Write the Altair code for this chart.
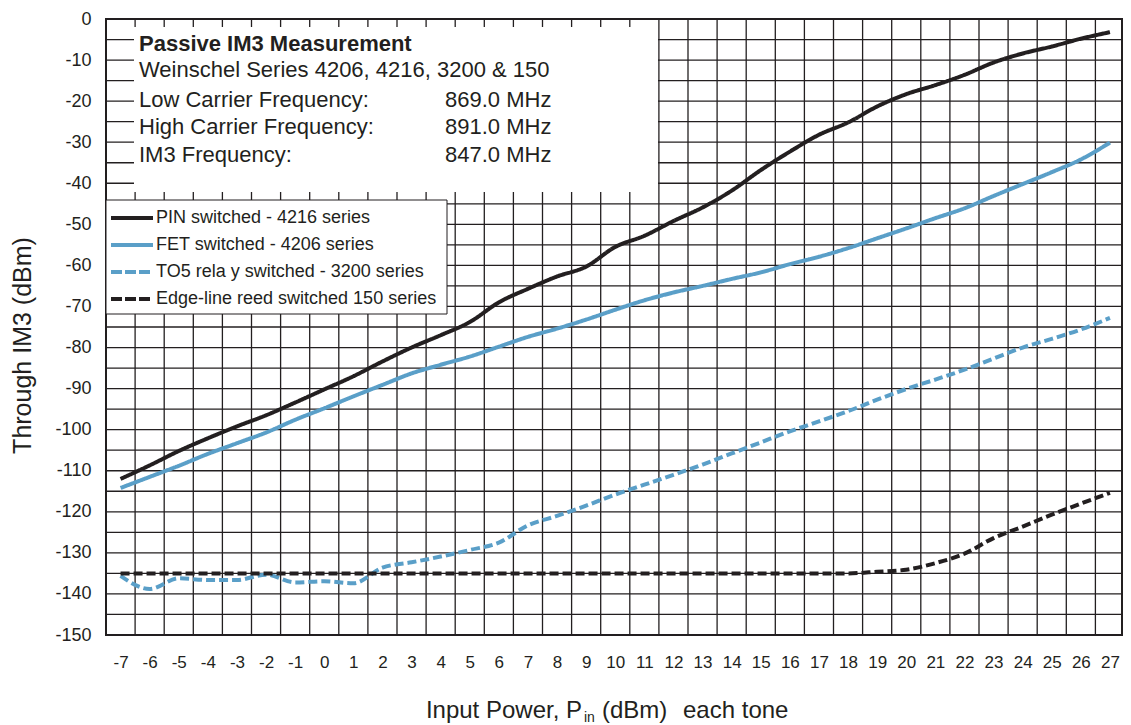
import altair as alt
import pandas as pd

# ---------------- data ----------------
x_vals = list(range(-7, 28))

pin_switched = [-112.0, -108.7, -105.2, -102.1, -99.2, -96.5, -93.4, -90.2, -87.0, -83.4,
                -80.0, -77.0, -73.8, -69.0, -65.7, -62.7, -60.3, -55.5, -52.8, -49.2,
                -45.9, -41.8, -36.8, -32.3, -28.2, -25.2, -21.3, -18.3, -16.1, -13.6,
                -10.6, -8.4, -6.7, -4.8, -3.2]

fet_switched = [-114.2, -111.5, -108.8, -105.9, -103.3, -100.7, -97.6, -94.8, -91.9, -89.1,
                -86.3, -84.2, -82.2, -79.8, -77.4, -75.4, -73.2, -70.8, -68.5, -66.6,
                -65.0, -63.3, -61.7, -59.7, -57.9, -55.8, -53.4, -51.0, -48.5, -46.1,
                -43.1, -40.2, -37.3, -34.2, -30.1]

to5_relay = [-135.6, -138.8, -136.2, -136.6, -136.6, -135.3, -137.2, -136.9, -137.4, -133.6,
             -132.3, -130.9, -129.3, -127.5, -123.3, -121.0, -118.5, -115.8, -113.4, -111.0,
             -108.5, -105.8, -103.1, -100.4, -98.0, -95.5, -92.7, -90.1, -87.8, -85.4,
             -82.7, -80.0, -77.9, -75.6, -72.8]

edge_reed = [-135.0, -135.0, -135.0, -135.0, -135.0, -135.0, -135.0, -135.0, -135.0, -135.0,
             -135.0, -135.0, -135.0, -135.0, -135.0, -135.0, -135.0, -135.0, -135.0, -135.0,
             -135.0, -135.0, -135.0, -135.0, -135.0, -135.0, -134.6, -134.1, -132.5, -130.2,
             -126.4, -123.6, -120.7, -118.0, -115.4]

series_names = ["PIN switched - 4216 series",
                "FET switched - 4206 series",
                "TO5 rela y switched - 3200 series",
                "Edge-line reed switched 150 series"]
series_values = [pin_switched, fet_switched, to5_relay, edge_reed]

y_tick_values = list(range(-150, 1, 10))
y_title = "Through IM3 (dBm)"

annotation_title = "Passive IM3 Measurement"
annotation_sub = "Weinschel Series 4206, 4216, 3200 & 150"
annotation_labels = ["Low Carrier Frequency:", "High Carrier Frequency:", "IM3 Frequency:"]
annotation_values = ["869.0 MHz", "891.0 MHz", "847.0 MHz"]

# ---------------- styling ----------------
FONT = "Liberation Sans"
NARROW = "Liberation Sans Narrow, Liberation Sans"
INK = "#231f20"
BLUE = "#5a9fc8"
series_colors = [INK, BLUE, BLUE, INK]
series_dashes = [[1, 0], [1, 0], [9, 4], [9, 4]]

PLOT_W = 1016
BAND = 29.1
X_MIN = -7.5
X_MAX = X_MIN + PLOT_W / BAND

rows = []
for name, vals in zip(series_names, series_values):
    for xv, yv in zip(x_vals, vals):
        rows.append({"x": xv, "v": yv, "series": name})
df = pd.DataFrame(rows)

grid_x = [x_vals[0] - 0.5 + i for i in range(len(x_vals) + 1)]
grid_x = [g for g in grid_x if g <= X_MAX]
grid_y = list(range(-150, 1, 5))

x_scale = alt.Scale(domain=[X_MIN, X_MAX], nice=False, zero=False)
y_scale = alt.Scale(domain=[-150, 0], nice=False, zero=False)

x_axis = alt.Axis(values=x_vals, labelExpr="'' + datum.value", ticks=False,
                  domain=False, grid=False, labelFontSize=17, labelFont=NARROW,
                  labelColor=INK, labelPadding=19, labelOverlap=False)
y_axis = alt.Axis(values=y_tick_values, labelExpr="'' + datum.value", ticks=False,
                  domain=False, grid=False, labelFontSize=18, labelFont=FONT,
                  labelColor=INK, labelPadding=15, labelOverlap=False,
                  title=y_title, titleFont=FONT, titleFontSize=25, titleFontWeight="normal",
                  titleColor=INK, titleAngle=270, titleAlign="center",
                  titleBaseline="middle", titleX=-84, titleY=326)

one = pd.DataFrame({"k": [0]})

vgrid = alt.Chart(pd.DataFrame({"gx": grid_x})).mark_rule(
    color=INK, strokeWidth=1.3).encode(
    x=alt.X("gx:Q", scale=x_scale, axis=x_axis, title=""))

hgrid = alt.Chart(pd.DataFrame({"gy": grid_y})).mark_rule(
    color=INK, strokeWidth=1.3).encode(
    y=alt.Y("gy:Q", scale=y_scale, axis=y_axis))

# white annotation panel
panel = alt.Chart(one).mark_rect(fill="white").encode(
    x=alt.value(28), x2=alt.value(552), y=alt.value(8), y2=alt.value(173))

def txt(text, x, y, size=22, weight="normal", align="left", baseline="alphabetic",
        font=FONT):
    return alt.Chart(one).mark_text(text=text, font=font, fontSize=size, fontWeight=weight,
                                    align=align, baseline=baseline, color=INK).encode(
        x=alt.value(x), y=alt.value(y))

ann_layers = [txt(annotation_title, 33, 31.7, size=22, weight="bold"),
              txt(annotation_sub, 33, 58, size=22)]
for i, (lab, val) in enumerate(zip(annotation_labels, annotation_values)):
    yb = [87.7, 115.3, 143.3][i]
    ann_layers.append(txt(lab, 33, yb, size=22))
    ann_layers.append(txt(val, 339, yb, size=22))

lines = alt.Chart(df).mark_line(strokeWidth=4, interpolate="monotone").encode(
    x=alt.X("x:Q", scale=x_scale, title="", axis=x_axis),
    y=alt.Y("v:Q", scale=y_scale, axis=y_axis),
    color=alt.Color("series:N", scale=alt.Scale(domain=series_names, range=series_colors),
                    legend=None),
    strokeDash=alt.StrokeDash("series:N",
                              scale=alt.Scale(domain=series_names, range=series_dashes),
                              legend=None),
)

# manual legend
legend_box = alt.Chart(one).mark_rect(fill="white", stroke=INK, strokeWidth=1).encode(
    x=alt.value(0), x2=alt.value(341), y=alt.value(181), y2=alt.value(295))
legend_layers = [legend_box]
for i, name in enumerate(series_names):
    yc = 199 + 27 * i
    kw = dict(color=series_colors[i], strokeWidth=4)
    if series_dashes[i] != [1, 0]:
        kw["strokeDash"] = [11, 3]
    legend_layers.append(alt.Chart(one).mark_rule(**kw).encode(
        x=alt.value(5), x2=alt.value(47), y=alt.value(yc)))
    legend_layers.append(txt(name, 50, yc, size=18, baseline="middle"))

# x axis title with subscript
title_layers = [
    txt("Input Power, P", 476, 699, size=24, align="right"),
    txt("in", 478, 702.5, size=14, align="left"),
    txt("(dBm)", 496, 699, size=24, align="left"),
    txt("each tone", 577, 699, size=24, align="left"),
]

chart = alt.layer(vgrid, hgrid, panel, *ann_layers, lines, *legend_layers, *title_layers).properties(
    width=PLOT_W, height=616,
    autosize=alt.AutoSizeParams(type="none"),
    padding={"left": 98, "top": 11, "right": 1, "bottom": 90},
    background="white",
).configure_view(stroke=INK, strokeWidth=2)

chart.save("out.html", embed_options={"renderer": "svg", "actions": False})
